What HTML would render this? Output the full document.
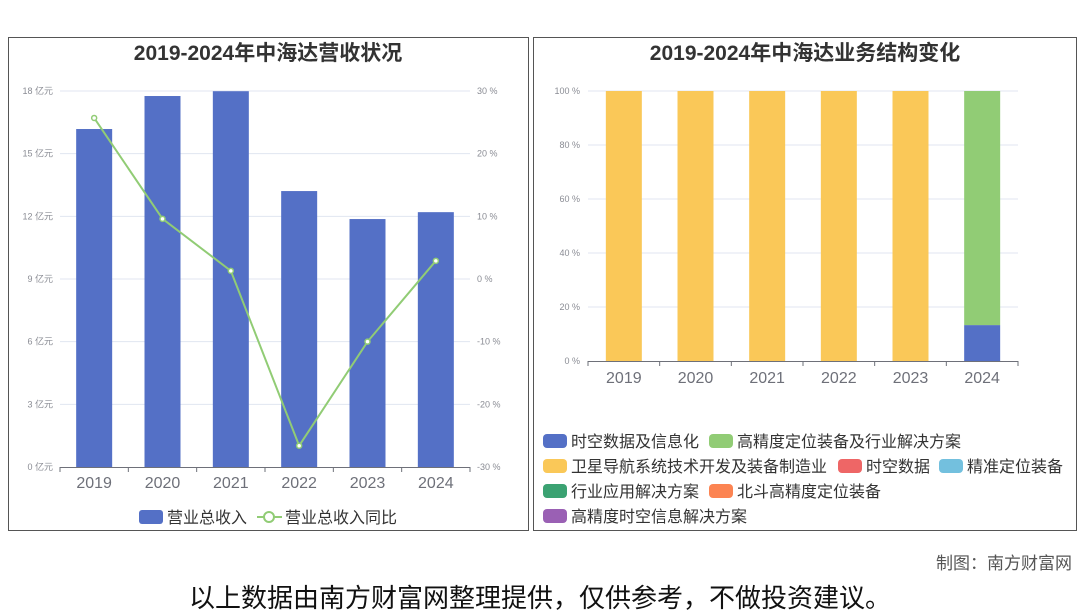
<!DOCTYPE html>
<html><head><meta charset="utf-8">
<style>
body{margin:0;width:1080px;height:614px;background:#fff;font-family:"Liberation Sans","Noto Sans CJK SC",sans-serif;overflow:hidden;position:relative}
svg{position:absolute;left:0;top:0}
</style></head><body>
<svg width="1080" height="614" id="s" font-family="Liberation Sans, Noto Sans CJK SC, sans-serif"></svg>
<script>
const years=["2019","2020","2021","2022","2023","2024"];
const revenue=[16.18,17.76,17.99,13.21,11.87,12.2];
const yoy=[25.7,9.6,1.3,-26.6,-10.0,2.9];
const leftTicks=[0,3,6,9,12,15,18];
const rightTicks=[-30,-20,-10,0,10,20,30];
const pctTicks=[0,20,40,60,80,100];
const segInfo=[0,0,0,0,0,13.3];
const segSat=[100,100,100,100,100,0];
const segHigh=[0,0,0,0,0,86.7];
const legendItems=[["时空数据及信息化","#5470c6"],["高精度定位装备及行业解决方案","#91cc75"],["卫星导航系统技术开发及装备制造业","#fac858"],["时空数据","#ee6666"],["精准定位装备","#73c0de"],["行业应用解决方案","#3ba272"],["北斗高精度定位装备","#fc8452"],["高精度时空信息解决方案","#9a60b4"]];
const legendPos=[[543,441],[709,441],[543,466],[838,466],[939,466],[543,491],[709,491],[543,516]];

const s=document.getElementById('s');const NS="http://www.w3.org/2000/svg";
function el(t,a,txt){const e=document.createElementNS(NS,t);for(const k in a)e.setAttribute(k,a[k]);if(txt!==undefined)e.textContent=txt;s.appendChild(e);return e;}
let p=el('rect',{x:8.5,y:37.5,width:520,height:493,fill:'none',stroke:'#555'});

p=el('rect',{x:533.5,y:37.5,width:543,height:493,fill:'none',stroke:'#555'});

let t=el('text',{x:268,y:60,'text-anchor':'middle','font-size':21,'font-weight':'bold',fill:'#333'},'2019-2024年中海达营收状况');

t=el('text',{x:805,y:60,'text-anchor':'middle','font-size':21,'font-weight':'bold',fill:'#333'},'2019-2024年中海达业务结构变化');


const L={x0:60,x1:470,y0:467,y1:91};
const ly=v=>L.y0-(v/18)*(L.y0-L.y1);
const ry=v=>L.y0-((v+30)/60)*(L.y0-L.y1);
const bw=(L.x1-L.x0)/years.length;
const cx=i=>L.x0+bw*(i+0.5);
leftTicks.forEach(v=>{const y=ly(v);
 if(v>0){const g=el('line',{x1:L.x0,x2:L.x1,y1:y,y2:y,stroke:'#e0e6f1'});}
 const tt=el('text',{x:53,y:y+3,'text-anchor':'end','font-size':9,fill:'#8a8c94'},v+' 亿元');});
rightTicks.forEach(v=>{const tt=el('text',{x:477,y:ry(v)+3,'font-size':9,fill:'#8a8c94'},v+' %');});
revenue.forEach((v,i)=>{const r=el('rect',{x:cx(i)-18,y:ly(v),width:36,height:L.y0-ly(v),fill:'#5470c6'});});
let ax=el('line',{x1:L.x0,x2:L.x1,y1:L.y0+0.5,y2:L.y0+0.5,stroke:'#6e7079'});
years.forEach((yr,i)=>{let tk=el('line',{x1:L.x0+bw*i,x2:L.x0+bw*i,y1:L.y0,y2:L.y0+5,stroke:'#6e7079'});
 const tt=el('text',{x:cx(i),y:488,'text-anchor':'middle','font-size':16,fill:'#6e7079'},yr);});
let tk=el('line',{x1:L.x1,x2:L.x1,y1:L.y0,y2:L.y0+5,stroke:'#6e7079'});
const pl=el('polyline',{points:yoy.map((v,i)=>cx(i)+','+ry(v)).join(' '),fill:'none',stroke:'#91cc75','stroke-width':2});

yoy.forEach((v,i)=>{const c=el('circle',{cx:cx(i),cy:ry(v),r:2.5,fill:'#fff',stroke:'#91cc75','stroke-width':1.5});});
let lg=el('rect',{x:139,y:510,width:24,height:14,rx:3,fill:'#5470c6'});
t=el('text',{x:167,y:523,'font-size':16,fill:'#333'},'营业总收入');
lg=el('line',{x1:257,x2:282,y1:517,y2:517,stroke:'#91cc75','stroke-width':2});
lg=el('circle',{cx:269,cy:517,r:5,fill:'#fff',stroke:'#91cc75','stroke-width':2});
t=el('text',{x:285,y:523,'font-size':16,fill:'#333'},'营业总收入同比');

const R={x0:588,x1:1018,y0:361,y1:91};
const py=v=>R.y0-(v/100)*(R.y0-R.y1);
const rbw=(R.x1-R.x0)/years.length;
const rcx=i=>R.x0+rbw*(i+0.5);
pctTicks.forEach(v=>{const y=py(v);
 if(v>0){const g=el('line',{x1:R.x0,x2:R.x1,y1:y,y2:y,stroke:'#e0e6f1'});}
 const tt=el('text',{x:580,y:y+3,'text-anchor':'end','font-size':9,fill:'#8a8c94'},v+' %');});
years.forEach((yr,i)=>{let base=0;
 [[segInfo,'#5470c6','info'],[segSat,'#fac858','satnav'],[segHigh,'#91cc75','highprec']].forEach(([arr,c,n])=>{const v=arr[i];if(v>0){const r=el('rect',{x:rcx(i)-18,y:py(base+v),width:36,height:py(base)-py(base+v),fill:c});}base+=v;});
 let tk=el('line',{x1:R.x0+rbw*i,x2:R.x0+rbw*i,y1:R.y0,y2:R.y0+5,stroke:'#6e7079'});
 const tt=el('text',{x:rcx(i),y:383,'text-anchor':'middle','font-size':16,fill:'#6e7079'},yr);});
tk=el('line',{x1:R.x1,x2:R.x1,y1:R.y0,y2:R.y0+5,stroke:'#6e7079'});
ax=el('line',{x1:R.x0,x2:R.x1,y1:R.y0+0.5,y2:R.y0+0.5,stroke:'#6e7079'});
legendItems.forEach(([name,c],i)=>{const [x,y]=legendPos[i];
 const r=el('rect',{x:x,y:y-7,width:24,height:14,rx:4,fill:c});
 const tt=el('text',{x:x+28,y:y+6,'font-size':16,fill:'#333'},name);});

t=el('text',{x:1072,y:569,'text-anchor':'end','font-size':17,fill:'#555'},'制图：南方财富网');
t=el('text',{x:540,y:607,'text-anchor':'middle','font-size':26,fill:'#111'},'以上数据由南方财富网整理提供，仅供参考，不做投资建议。');
</script>
</body></html>
